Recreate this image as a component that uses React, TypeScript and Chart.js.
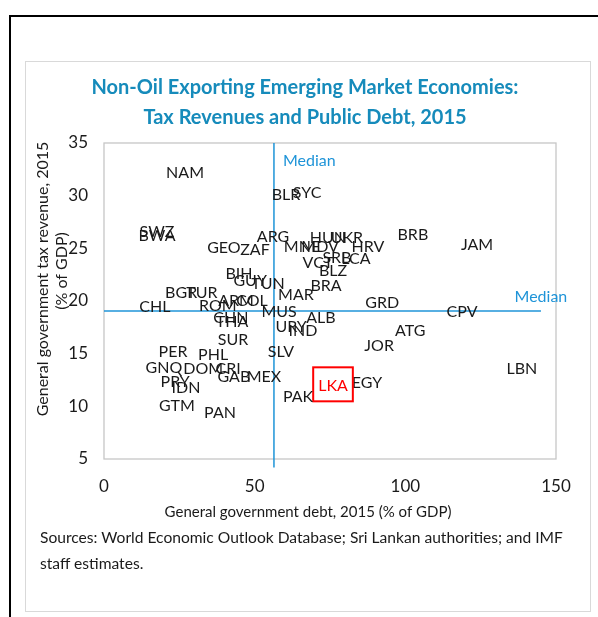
import React, { useEffect, useRef } from "react";
import { Chart, registerables } from "chart.js";

Chart.register(...registerables);

const FONT = "Lato, 'Open Sans', sans-serif";

// ---------- data ----------
const countries = [
  "NAM", "BLR", "SYC", "SWZ", "BWA", "ARG", "GEO", "ZAF", "MNE", "MDV",
  "HUN", "UKR", "HRV", "VCT", "SRB", "LCA", "BLZ", "BRB", "JAM", "BRA",
  "BIH", "GUY", "TUN", "MAR", "BGR", "TUR", "CHL", "ROM", "ARM", "COL",
  "CHN", "THA", "MUS", "ALB", "URY", "IND", "GRD", "CPV", "ATG", "JOR",
  "LBN", "EGY", "LKA", "PAK", "SLV", "SUR", "PER", "PHL", "GNQ", "DOM",
  "CRI", "GAB", "MEX", "PRY", "IDN", "GTM", "PAN",
];
const debt = [
  26.9, 60.4, 67.4, 17.6, 17.6, 56.1, 39.8, 50.1, 65.7, 71.7,
  74.3, 80.6, 87.6, 71.0, 77.3, 83.6, 76.0, 102.5, 123.8, 73.7,
  44.8, 48.5, 54.4, 63.7, 25.6, 32.5, 16.9, 37.8, 43.8, 49.1,
  42.1, 42.5, 58.1, 72.0, 62.1, 66.0, 92.3, 118.8, 101.6, 91.3,
  138.7, 87.3, 76.0, 64.4, 58.7, 42.8, 22.9, 36.2, 19.9, 32.9,
  41.2, 43.1, 53.1, 23.6, 27.2, 24.2, 38.5,
];
const taxRevenue = [
  32.2, 30.1, 30.3, 26.6, 26.2, 26.1, 25.0, 24.9, 25.1, 25.1,
  26.0, 26.0, 25.1, 23.6, 24.1, 24.0, 22.9, 26.3, 25.3, 21.4,
  22.6, 21.9, 21.6, 20.6, 20.8, 20.8, 19.4, 19.5, 20.0, 20.0,
  18.4, 18.0, 19.0, 18.4, 17.5, 17.2, 19.8, 19.0, 17.2, 15.7,
  13.6, 12.2, 11.9, 10.9, 15.2, 16.3, 15.2, 14.9, 13.7, 13.6,
  13.6, 12.8, 12.8, 12.3, 11.8, 10.0, 9.4,
];
const highlightCountry = "LKA";

const medianDebt = 56.4;
const medianTax = 19.05;
const medianDebtLine = [35, 4.2]; // y extent of vertical median line
const medianTaxLine = [0, 145]; // x extent of horizontal median line

const xMin = 0, xMax = 150, xStep = 50;
const yMin = 5, yMax = 35, yStep = 5;

const titleLines = [
  "Non-Oil Exporting Emerging Market Economies:",
  "Tax Revenues and Public Debt, 2015",
];
const xTitle = "General government debt, 2015 (% of GDP)";
const yTitleLines = ["General government tax revenue, 2015", "(% of GDP)"];
const medianLabel = "Median";
const sourceLines = [
  "Sources: World Economic Outlook Database; Sri Lankan authorities; and IMF",
  "staff estimates.",
];

// ---------- styles ----------
const TITLE_COLOR = "#168bbb";
const MEDIAN_COLOR = "#1f94d8";
const TEXT_COLOR = "#1a1a1a";
const BORDER_COLOR = "#c6c6c6";

const decorPlugin = {
  id: "decor",
  beforeDatasetsDraw(chart: any) {
    const { ctx, chartArea } = chart;
    ctx.save();
    ctx.strokeStyle = BORDER_COLOR;
    ctx.lineWidth = 1.3;
    ctx.strokeRect(
      chartArea.left,
      chartArea.top,
      chartArea.right - chartArea.left,
      chartArea.bottom - chartArea.top
    );
    ctx.restore();
  },
  afterDatasetsDraw(chart: any) {
    const { ctx, chartArea } = chart;
    const xs = chart.scales.x;
    const ys = chart.scales.y;
    ctx.save();

    // chart title
    ctx.fillStyle = TITLE_COLOR;
    ctx.font = `bold 20px ${FONT}`;
    ctx.textAlign = "center";
    ctx.textBaseline = "middle";
    ctx.fillText(titleLines[0], 279, 25);
    ctx.fillText(titleLines[1], 279, 55);

    // country labels
    ctx.font = `16px ${FONT}`;
    countries.forEach((c, i) => {
      const px = xs.getPixelForValue(debt[i]);
      const py = ys.getPixelForValue(taxRevenue[i]);
      if (c === highlightCountry) {
        ctx.fillStyle = "#ff0000";
        ctx.fillText(c, px, py);
        const w = ctx.measureText(c).width;
        ctx.strokeStyle = "#ff0000";
        ctx.lineWidth = 2;
        ctx.strokeRect(px - w / 2 - 5, py - 19, w + 10, 34);
      } else {
        ctx.fillStyle = TEXT_COLOR;
        ctx.fillText(c, px, py);
      }
    });

    // median labels
    ctx.fillStyle = MEDIAN_COLOR;
    ctx.font = `16px ${FONT}`;
    const mx = xs.getPixelForValue(medianDebt);
    ctx.textAlign = "left";
    ctx.fillText(medianLabel, mx + 9, chartArea.top + 18);
    const hy = ys.getPixelForValue(medianTax);
    const hx = xs.getPixelForValue(medianTaxLine[1]);
    ctx.textAlign = "center";
    ctx.fillText(medianLabel, hx, hy - 14);

    // axis titles
    ctx.fillStyle = TEXT_COLOR;
    ctx.font = `15px ${FONT}`;
    ctx.textAlign = "center";
    ctx.textBaseline = "middle";
    ctx.fillText(xTitle, 282, 449);

    ctx.font = `16px ${FONT}`;
    ctx.save();
    ctx.translate(17, 216);
    ctx.rotate(-Math.PI / 2);
    ctx.fillText(yTitleLines[0], 0, 0);
    ctx.restore();
    ctx.save();
    ctx.translate(36, 208);
    ctx.rotate(-Math.PI / 2);
    ctx.fillText(yTitleLines[1], 0, 0);
    ctx.restore();

    ctx.restore();
  },
};

export default function App() {
  const canvasRef = useRef<HTMLCanvasElement | null>(null);

  useEffect(() => {
    const canvas = canvasRef.current;
    if (!canvas) return;
    const points = countries.map((_, i) => ({ x: debt[i], y: taxRevenue[i] }));
    const chart = new Chart(canvas, {
      type: "scatter",
      data: {
        datasets: [
          {
            label: "Countries",
            data: points,
            pointRadius: 0,
            pointHoverRadius: 0,
          },
          {
            type: "line",
            label: "Median debt",
            data: [
              { x: medianDebt, y: medianDebtLine[0] },
              { x: medianDebt, y: medianDebtLine[1] },
            ],
            borderColor: MEDIAN_COLOR,
            borderWidth: 1.5,
            pointRadius: 0,
            clip: false,
          } as any,
          {
            type: "line",
            label: "Median tax",
            data: [
              { x: medianTaxLine[0], y: medianTax },
              { x: medianTaxLine[1], y: medianTax },
            ],
            borderColor: MEDIAN_COLOR,
            borderWidth: 1.5,
            pointRadius: 0,
            clip: false,
          } as any,
        ],
      },
      options: {
        animation: false,
        responsive: true,
        maintainAspectRatio: false,
        layout: { padding: { left: 0, right: 34, top: 80, bottom: 0 } },
        plugins: {
          legend: { display: false },
          tooltip: { enabled: false },
          title: { display: false },
        },
        scales: {
          x: {
            type: "linear",
            min: xMin,
            max: xMax,
            grid: { display: false, drawTicks: false },
            border: { display: false },
            ticks: {
              stepSize: xStep,
              color: TEXT_COLOR,
              font: { family: FONT, size: 17 },
              padding: 17,
            },
            afterFit: (scale: any) => {
              scale.height = 74;
            },
          },
          y: {
            type: "linear",
            min: yMin,
            max: yMax,
            grid: { display: false, drawTicks: false },
            border: { display: false },
            ticks: {
              stepSize: yStep,
              color: TEXT_COLOR,
              font: { family: FONT, size: 17 },
              padding: 16,
            },
            afterFit: (scale: any) => {
              scale.width = 78;
            },
          },
        },
      },
      plugins: [decorPlugin],
    });
    return () => chart.destroy();
  }, []);

  return (
    <div
      style={{
        position: "fixed",
        left: 0,
        top: 0,
        width: 598,
        height: 617,
        background: "#fff",
        overflow: "hidden",
      }}
    >
      <div
        style={{
          position: "absolute",
          left: 9,
          top: 15,
          width: 589,
          height: 602,
          boxSizing: "border-box",
          borderTop: "2px solid #000",
          borderLeft: "2px solid #000",
        }}
      />
      <div
        style={{
          position: "absolute",
          left: 25,
          top: 61,
          width: 566,
          height: 551,
          boxSizing: "border-box",
          border: "1px solid #d9d9d9",
        }}
      />
      <div
        style={{
          position: "absolute",
          left: 26,
          top: 63,
          width: 564,
          height: 470,
        }}
      >
        <canvas ref={canvasRef} />
      </div>
      <div
        style={{
          position: "absolute",
          left: 40,
          top: 524,
          fontFamily: FONT,
          fontSize: 15.6,
          lineHeight: "26px",
          color: TEXT_COLOR,
          whiteSpace: "nowrap",
        }}
      >
        {sourceLines.map((l, i) => (
          <div key={i}>{l}</div>
        ))}
      </div>
    </div>
  );
}
